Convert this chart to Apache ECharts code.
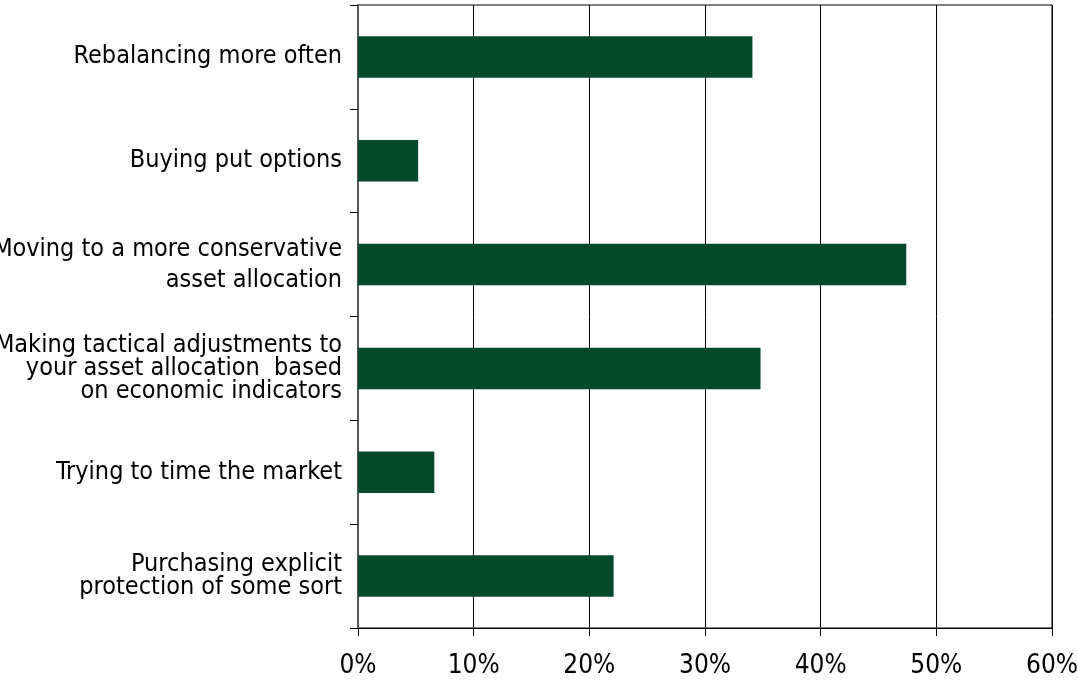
<!DOCTYPE html>
<html>
<head>
<meta charset="utf-8">
<style>
  html, body { margin: 0; padding: 0; background: #fff; }
  #chart { width: 1078px; height: 683px; }
</style>
<script src="https://cdn.jsdelivr.net/npm/echarts@6/dist/echarts.min.js"></script>
</head>
<body>
<div id="chart"></div>
<script>
// Survey responses: share of respondents using each approach
const categories = [
  'Rebalancing more often',
  'Buying put options',
  'Moving to a more conservative\nasset allocation',
  'Making tactical adjustments to\nyour asset allocation  based\non economic indicators',
  'Trying to time the market',
  'Purchasing explicit\nprotection of some sort'
];
const shares = [34.1, 5.2, 47.4, 34.8, 6.6, 22.1];
const lineHeights = [28, 28, 31, 23, 28, 23];

const FONT = '"Liberation Sans Narrow", "DejaVu Sans Condensed", "Liberation Sans", sans-serif';

const chart = echarts.init(document.getElementById('chart'), null, { renderer: 'canvas' });
chart.setOption({
  animation: false,
  backgroundColor: '#ffffff',
  grid: { left: 358, right: 26, top: 5, bottom: 55, containLabel: false,
          outerBoundsMode: 'none',
          show: true, borderColor: '#000', borderWidth: 1 },
  xAxis: {
    type: 'value',
    min: 0, max: 60, interval: 10,
    axisLine: { show: true, lineStyle: { color: '#000', width: 1 } },
    axisTick: { show: true, length: 8, lineStyle: { color: '#000' } },
    axisLabel: { formatter: '{value}%', fontFamily: FONT, fontSize: 26, color: '#000', margin: 25 },
    splitLine: { show: true, lineStyle: { color: '#000', width: 1 } }
  },
  yAxis: {
    type: 'category',
    inverse: true,
    data: categories.map((c, i) => ({ value: c, textStyle: { lineHeight: lineHeights[i] } })),
    axisLine: { show: true, lineStyle: { color: '#555', width: 2 } },
    axisTick: { show: true, length: 8, alignWithLabel: false, lineStyle: { color: '#000' } },
    axisLabel: { fontFamily: FONT, fontSize: 25, color: '#000', margin: 16, align: 'right' },
    splitLine: { show: false }
  },
  series: [{
    type: 'bar',
    data: shares,
    barWidth: '40%',
    itemStyle: { color: '#03492c' }
  }]
});
</script>
</body>
</html>
